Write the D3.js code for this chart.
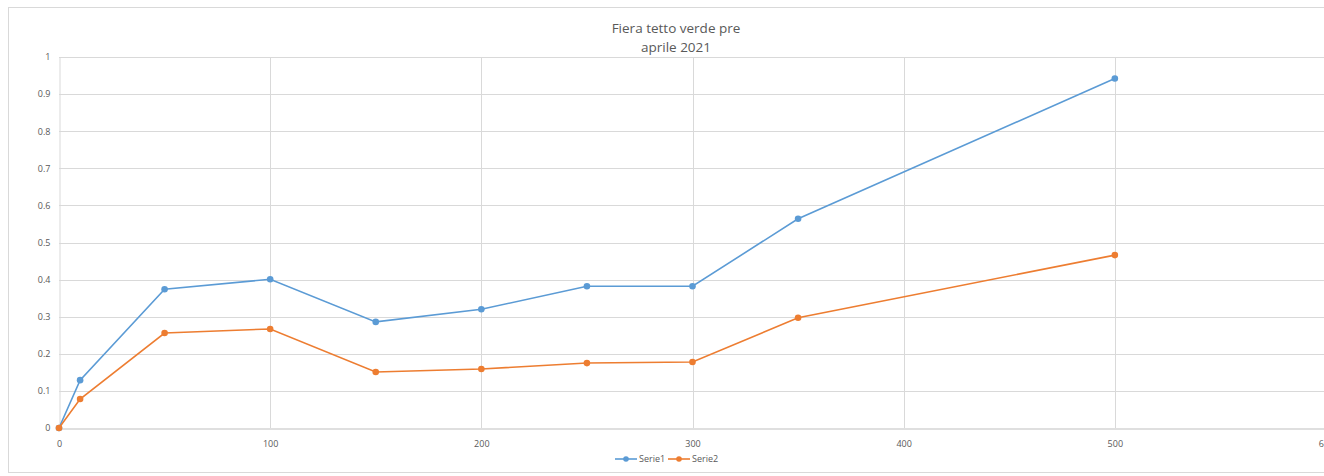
<!DOCTYPE html>
<html>
<head>
<meta charset="utf-8">
<script src="https://cdn.jsdelivr.net/npm/d3@7"></script>
<style>
  html, body { margin: 0; padding: 0; background: #fff; }
  svg { display: block; }
</style>
</head>
<body>
<svg id="chart" width="1324" height="476"></svg>
<script>
// Sampling distances (x) and measured values for both series
const xValues = [0, 10, 50, 100, 150, 200, 250, 300, 350, 500];
const serie1 = [0, 0.129, 0.374, 0.401, 0.286, 0.320, 0.382, 0.382, 0.564, 0.942];
const serie2 = [0, 0.078, 0.256, 0.267, 0.151, 0.159, 0.175, 0.178, 0.297, 0.466];
const seriesNames = ["Serie1", "Serie2"];
const xTicks = [0, 100, 200, 300, 400, 500, 600];
const yTicks = [0, 0.1, 0.2, 0.3, 0.4, 0.5, 0.6, 0.7, 0.8, 0.9, 1];
const titleLines = ["Fiera tetto verde pre", "aprile 2021"];

const colors = ["#5b9bd5", "#ed7d31"];
const font = "'Open Sans', 'Liberation Sans', sans-serif";

const svg = d3.select("#chart");

// chart area frame
svg.append("rect")
  .attr("x", 8.5).attr("y", 7.5)
  .attr("width", 1330).attr("height", 465)
  .attr("fill", "#fff").attr("stroke", "#d9d9d9");

const x = d3.scaleLinear().domain([0, 600]).range([59, 1326]);
const y = d3.scaleLinear().domain([0, 1]).range([428, 57]);

// horizontal gridlines
svg.append("g")
  .selectAll("line").data(yTicks.filter(d => d > 0)).join("line")
  .attr("x1", x(0)).attr("x2", 1324)
  .attr("y1", d => Math.round(y(d)) + 0.5).attr("y2", d => Math.round(y(d)) + 0.5)
  .attr("stroke", "#d9d9d9").attr("stroke-width", 1);

// vertical gridlines
svg.append("g")
  .selectAll("line").data(xTicks.filter(d => d > 0)).join("line")
  .attr("x1", d => Math.round(x(d)) + 0.5).attr("x2", d => Math.round(x(d)) + 0.5)
  .attr("y1", y(1)).attr("y2", y(0))
  .attr("stroke", "#d9d9d9").attr("stroke-width", 1);

// axes
const xAxis = svg.append("g")
  .attr("transform", `translate(0,${Math.round(y(0)) + 0.5})`)
  .call(d3.axisBottom(x).tickValues(xTicks).tickSize(0).tickPadding(12).tickFormat(d3.format("d")));
xAxis.select(".domain").attr("stroke", "#bfbfbf");

const yAxis = svg.append("g")
  .attr("transform", `translate(${Math.round(x(0)) + 0.5},0)`)
  .call(d3.axisLeft(y).tickValues(yTicks).tickSize(0).tickPadding(9).tickFormat(d => d === 0 ? "0" : d3.format("~g")(d)));
yAxis.select(".domain").attr("stroke", "#d9d9d9");

svg.selectAll(".tick text")
  .attr("fill", "#595959")
  .style("font-family", font)
  .style("font-size", "9px");

// title
svg.append("text")
  .attr("x", 676).attr("y", 33)
  .attr("text-anchor", "middle")
  .attr("fill", "#595959")
  .style("font-family", font)
  .style("font-size", "13.5px")
  .selectAll("tspan").data(titleLines).join("tspan")
  .attr("x", 676).attr("dy", (d, i) => i === 0 ? 0 : 19)
  .text(d => d);

// series lines and markers
const line = d3.line().x(d => x(d[0])).y(d => y(d[1]));
[serie1, serie2].forEach((vals, i) => {
  const pts = xValues.map((xv, j) => [xv, vals[j]]);
  const g = svg.append("g");
  g.append("path")
    .datum(pts)
    .attr("d", line)
    .attr("fill", "none")
    .attr("stroke", colors[i])
    .attr("stroke-width", 1.6);
  g.selectAll("circle").data(pts).join("circle")
    .attr("cx", d => x(d[0])).attr("cy", d => y(d[1]))
    .attr("r", 3.3)
    .attr("fill", colors[i]);
});

// legend
const legend = svg.append("g").attr("transform", "translate(615,459)");
seriesNames.forEach((name, i) => {
  const g = legend.append("g").attr("transform", `translate(${i * 53},0)`);
  g.append("line").attr("x1", 0).attr("x2", 22).attr("y1", 0).attr("y2", 0)
    .attr("stroke", colors[i]).attr("stroke-width", 1.6);
  g.append("circle").attr("cx", 11).attr("cy", 0).attr("r", 2.8).attr("fill", colors[i]);
  g.append("text").attr("x", 24).attr("y", 3)
    .attr("fill", "#595959")
    .style("font-family", font)
    .style("font-size", "9px")
    .text(name);
});
</script>
</body>
</html>
